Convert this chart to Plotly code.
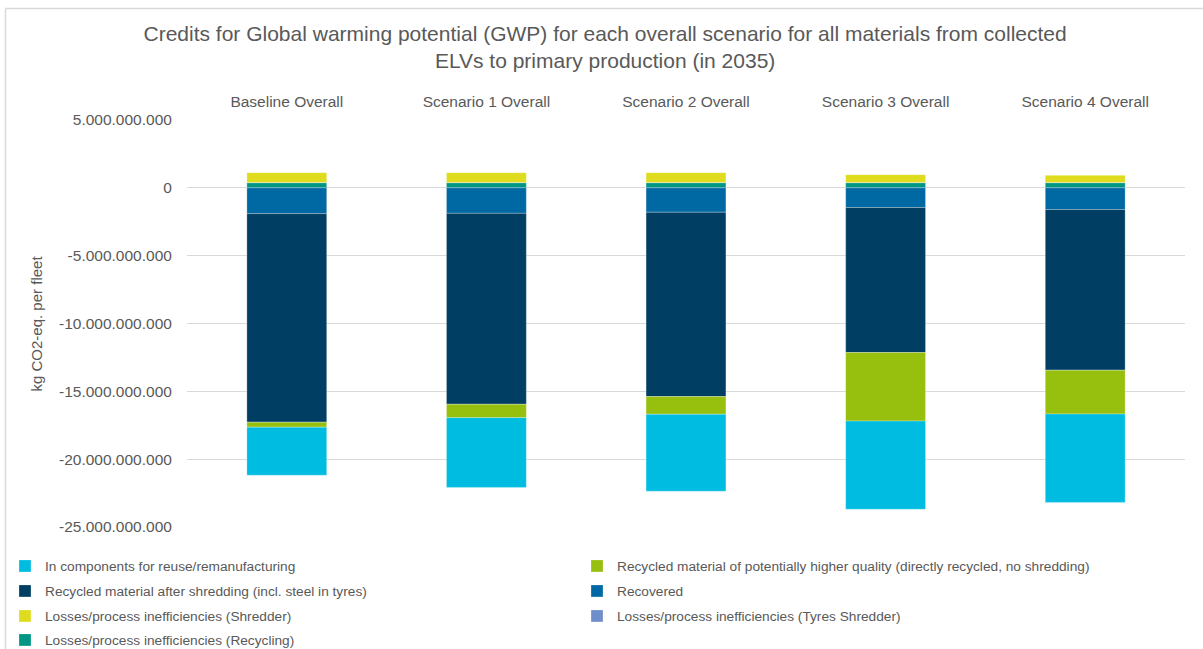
import plotly.graph_objects as go

categories = ["Baseline Overall", "Scenario 1 Overall", "Scenario 2 Overall",
              "Scenario 3 Overall", "Scenario 4 Overall"]

components = [-3.54e9, -5.14e9, -5.67e9, -6.50e9, -6.52e9]
higher_quality = [-0.37e9, -0.99e9, -1.30e9, -5.05e9, -3.23e9]
after_shredding = [-15.37e9, -14.07e9, -13.59e9, -10.69e9, -11.84e9]
recovered = [-1.90e9, -1.88e9, -1.80e9, -1.45e9, -1.60e9]
loss_shredder = [0.73e9, 0.73e9, 0.73e9, 0.58e9, 0.53e9]
loss_tyres = [0.01e9, 0.01e9, 0.01e9, 0.01e9, 0.01e9]
loss_recycling = [0.38e9, 0.38e9, 0.38e9, 0.38e9, 0.38e9]

series_names = [
    "In components for reuse/remanufacturing",
    "Recycled material of potentially higher quality (directly recycled, no shredding)",
    "Recycled material after shredding (incl. steel in tyres)",
    "Recovered",
    "Losses/process inefficiencies (Shredder)",
    "Losses/process inefficiencies (Tyres Shredder)",
    "Losses/process inefficiencies (Recycling)",
]
series_values = [components, higher_quality, after_shredding, recovered,
                 loss_shredder, loss_tyres, loss_recycling]
series_colors = ["#00BCE1", "#97BF0D", "#003F63", "#0069A3",
                 "#DFDC1F", "#6F8FCB", "#009684"]
# legend row of each series (two entries per row)
series_legend = ["legend", "legend", "legend2", "legend2",
                 "legend3", "legend3", "legend4"]

y_tickvals = [5e9, 0, -5e9, -10e9, -15e9, -20e9, -25e9]
y_ticktext = ["5.000.000.000", "0", "-5.000.000.000", "-10.000.000.000",
              "-15.000.000.000", "-20.000.000.000", "-25.000.000.000"]

fig = go.Figure()
# stacking outward from zero follows reverse legend order
for name, vals, col, lg in reversed(list(zip(series_names, series_values,
                                                  series_colors, series_legend))):
    fig.add_trace(go.Bar(
        x=categories, y=vals, name=name, legend=lg,
        marker=dict(color=col, line=dict(color="rgba(255,255,255,0.45)", width=0.6)),
        width=0.4,
    ))

grey = "#595959"
PL, PR, PT, PB = 187, 1185, 120, 527
W, H = 1203, 649
pw, ph = PR - PL, PB - PT


def px_x(x):
    return (x - PL) / pw


def px_y(y):
    return (PB - y) / ph


def row_legend(top_px):
    return dict(
        orientation="h", traceorder="reversed",
        x=px_x(5), xanchor="left", y=px_y(top_px), yanchor="top",
        entrywidth=527, entrywidthmode="pixels",
        itemwidth=30,
        font=dict(size=13.7, color=grey),
        bgcolor="rgba(0,0,0,0)",
    )


fig.update_layout(
    width=W, height=H,
    barmode="relative",
    paper_bgcolor="white", plot_bgcolor="white",
    font=dict(family="Liberation Sans, Arial, sans-serif", color=grey, size=15),
    margin=dict(l=PL, r=W - PR, t=PT, b=H - PB, autoexpand=False),
    title=dict(
        text="Credits for Global warming potential (GWP) for each overall scenario for all materials from collected<br>ELVs to primary production (in 2035)",
        x=0.503, xanchor="center", y=0.937, yanchor="top",
        font=dict(size=21, color=grey),
    ),
    xaxis=dict(
        side="top", showgrid=False, showline=False, zeroline=False,
        automargin=False,
        ticks="outside", ticklen=6, tickcolor="rgba(0,0,0,0)",
        tickfont=dict(size=15.5, color=grey),
    ),
    yaxis=dict(
        range=[-25e9, 5e9], tickvals=y_tickvals, ticktext=y_ticktext,
        automargin=False,
        showgrid=True, gridcolor="#D9D9D9", gridwidth=1,
        zeroline=True, zerolinecolor="#D9D9D9", zerolinewidth=1,
        showline=False,
        ticks="outside", ticklen=11, tickcolor="rgba(0,0,0,0)",
        tickfont=dict(size=15.5, color=grey),
    ),
    legend=row_legend(550.5),
    legend2=row_legend(575.5),
    legend3=row_legend(600.5),
    legend4=row_legend(624.5),
    annotations=[
        dict(text="kg CO2-eq. per fleet", xref="paper", yref="paper",
             x=px_x(36), y=0.5, xanchor="center", yanchor="middle",
             textangle=-90, showarrow=False, font=dict(size=15, color=grey)),
    ],
    shapes=[
        dict(type="line", xref="paper", yref="paper",
             x0=px_x(5.5), x1=1.1, y0=px_y(8.5), y1=px_y(8.5),
             line=dict(color="#D9D9D9", width=1.5)),
        dict(type="line", xref="paper", yref="paper",
             x0=px_x(5.5), x1=px_x(5.5), y0=-0.4, y1=px_y(8.5),
             line=dict(color="#D9D9D9", width=1.5)),
    ],
)

fig.write_html("out.html", config={"displayModeBar": False},
               post_script="document.body.style.margin='0px';")
